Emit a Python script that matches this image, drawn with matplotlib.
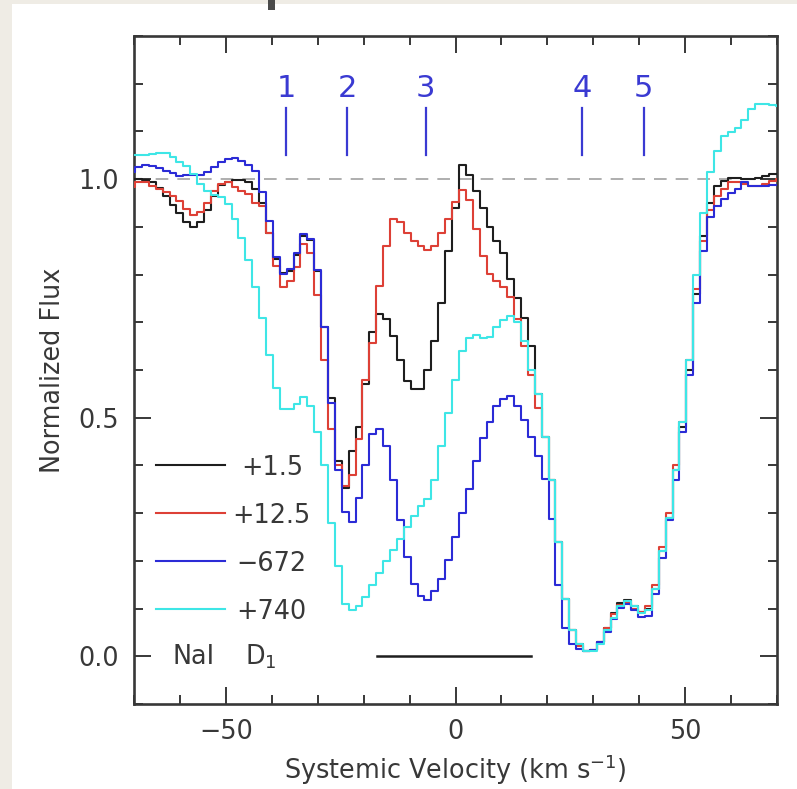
import numpy as np
import matplotlib
matplotlib.use("Agg")
import matplotlib.pyplot as plt
from matplotlib.patches import Rectangle
from matplotlib.ticker import MultipleLocator, FormatStrFormatter

# NaI D1 profiles on 1.5 km/s pixels, centres from -70.5 to +70.5 km/s
velocity = -70.5 + 1.5 * np.arange(95)

flux_p1_5 = [
    1.000, 1.000, 0.998, 0.993, 0.982, 0.964, 0.946, 0.928, 0.910, 0.899,
    0.910, 0.935, 0.964, 0.988, 0.993, 0.998, 0.998, 0.995, 0.980, 0.951,
    0.888, 0.832, 0.803, 0.808, 0.842, 0.880, 0.872, 0.808, 0.690, 0.542,
    0.410, 0.353, 0.430, 0.480, 0.570, 0.680, 0.717, 0.706, 0.671, 0.622,
    0.577, 0.560, 0.560, 0.600, 0.660, 0.740, 0.850, 0.940, 1.029, 1.008,
    0.975, 0.940, 0.900, 0.870, 0.845, 0.790, 0.750, 0.710, 0.650, 0.550,
    0.460, 0.370, 0.240, 0.120, 0.055, 0.025, 0.012, 0.013, 0.030, 0.060,
    0.090, 0.112, 0.118, 0.105, 0.092, 0.100, 0.140, 0.220, 0.290, 0.390,
    0.480, 0.600, 0.760, 0.880, 0.950, 0.986, 0.996, 1.003, 1.003, 1.000,
    1.000, 1.003, 1.006, 1.010, 1.010,
]

flux_p12_5 = [
    0.983, 0.995, 0.994, 0.986, 0.979, 0.973, 0.965, 0.954, 0.937, 0.925,
    0.932, 0.951, 0.976, 0.989, 0.993, 0.983, 0.976, 0.969, 0.951, 0.944,
    0.888, 0.818, 0.773, 0.787, 0.815, 0.864, 0.845, 0.758, 0.621, 0.477,
    0.401, 0.357, 0.379, 0.455, 0.578, 0.657, 0.776, 0.859, 0.917, 0.910,
    0.888, 0.870, 0.859, 0.852, 0.859, 0.888, 0.917, 0.953, 0.978, 0.957,
    0.895, 0.838, 0.801, 0.787, 0.773, 0.752, 0.706, 0.650, 0.590, 0.520,
    0.460, 0.370, 0.240, 0.120, 0.055, 0.022, 0.012, 0.013, 0.030, 0.060,
    0.088, 0.108, 0.112, 0.100, 0.092, 0.105, 0.150, 0.230, 0.300, 0.400,
    0.490, 0.620, 0.770, 0.870, 0.935, 0.965, 0.979, 0.993, 0.993, 0.990,
    0.986, 0.986, 0.990, 0.996, 1.000,
]

flux_m672 = [
    1.014, 1.025, 1.029, 1.027, 1.023, 1.018, 1.013, 1.007, 1.008, 1.008,
    1.008, 1.015, 1.025, 1.035, 1.043, 1.045, 1.038, 1.029, 1.018, 0.974,
    0.913, 0.836, 0.801, 0.811, 0.846, 0.885, 0.874, 0.810, 0.690, 0.530,
    0.390, 0.303, 0.282, 0.332, 0.400, 0.465, 0.476, 0.440, 0.370, 0.285,
    0.209, 0.152, 0.126, 0.119, 0.137, 0.162, 0.202, 0.249, 0.300, 0.350,
    0.409, 0.458, 0.490, 0.525, 0.540, 0.545, 0.525, 0.495, 0.460, 0.420,
    0.371, 0.287, 0.150, 0.060, 0.025, 0.015, 0.011, 0.014, 0.030, 0.050,
    0.078, 0.102, 0.109, 0.098, 0.082, 0.084, 0.130, 0.205, 0.285, 0.370,
    0.470, 0.590, 0.740, 0.850, 0.920, 0.944, 0.958, 0.972, 0.980, 0.993,
    0.986, 0.986, 0.986, 0.988, 0.988,
]

flux_p740 = [
    1.050, 1.051, 1.051, 1.052, 1.054, 1.054, 1.047, 1.035, 1.027, 1.010,
    0.990, 0.976, 0.966, 0.962, 0.948, 0.917, 0.877, 0.830, 0.773, 0.708,
    0.632, 0.563, 0.518, 0.518, 0.528, 0.543, 0.525, 0.470, 0.400, 0.280,
    0.190, 0.110, 0.097, 0.105, 0.125, 0.150, 0.175, 0.200, 0.222, 0.245,
    0.270, 0.295, 0.315, 0.330, 0.370, 0.440, 0.510, 0.580, 0.640, 0.668,
    0.673, 0.668, 0.670, 0.690, 0.705, 0.713, 0.700, 0.660, 0.600, 0.550,
    0.460, 0.370, 0.240, 0.120, 0.055, 0.025, 0.012, 0.012, 0.025, 0.055,
    0.080, 0.105, 0.115, 0.105, 0.090, 0.098, 0.140, 0.220, 0.290, 0.390,
    0.490, 0.620, 0.800, 0.930, 1.014, 1.059, 1.091, 1.098, 1.108, 1.124,
    1.146, 1.157, 1.157, 1.155, 1.153,
]

series_labels = ["+1.5", "+12.5", "\u2212672", "+740"]
series_colors = ["#1e1e1e", "#dd4036", "#2b2bd6", "#3ee6e6"]
legend_levels = [0.4, 0.3, 0.2, 0.1]
label_starts = [-46.6, -48.6, -47.8, -47.8]

# absorption components
component_ids = ["1", "2", "3", "4", "5"]
component_vel = [-36.9, -23.6, -6.5, 27.5, 41.0]

# velocity span of the horizontal bar at zero flux
bar_span = [-17.1, 16.5]

ink = "#383838"
plt.rcParams["font.family"] = ["DejaVu Sans"]
plt.rcParams["mathtext.fontset"] = "dejavusans"

W, H = 797, 789
fig = plt.figure(figsize=(W / 100, H / 100), dpi=100)
fig.patch.set_facecolor("#efece5")
fig.patches.append(Rectangle((12 / W, 0), 1 - 12 / W, 1 - 4 / H,
                             transform=fig.transFigure, facecolor="white",
                             edgecolor="none", zorder=-10))
fig.patches.append(Rectangle((268 / W, 1 - 10 / H), 7 / W, 10 / H,
                             transform=fig.transFigure, facecolor="#4a4a4a",
                             edgecolor="none", zorder=-9))

ax = fig.add_axes([134 / W, 1 - 704 / H, (777 - 134) / W, (704 - 36) / H])
ax.set_facecolor("white")

fluxes = [flux_p1_5, flux_p12_5, flux_m672, flux_p740]
for f, c in zip(fluxes, series_colors):
    ax.step(velocity, f, where="mid", color=c, lw=1.5, zorder=3)

ax.axhline(1.0, color="#a8a8a8", lw=1.3, dashes=(7, 5), zorder=1)

# hand-drawn key in the lower left
for lab, c, y, x0 in zip(series_labels, series_colors, legend_levels,
                         label_starts):
    ax.plot([-65.3, -50.2], [y, y], color=c, lw=1.5)
    ax.text(x0, y, lab, color=ink, fontsize=18.4, ha="left",
            va="center_baseline")

ax.text(-61.6, 0.005, "NaI", color=ink, fontsize=18.4, ha="left",
        va="center_baseline")
ax.text(-45.8, 0.005, "D$_1$", color=ink, fontsize=18.4, ha="left",
        va="center_baseline")
ax.plot(bar_span, [0, 0], color="#1e1e1e", lw=1.8)

for cid, v in zip(component_ids, component_vel):
    ax.plot([v, v], [1.05, 1.15], color="#3a3ad2", lw=1.6)
    ax.text(v, 1.197, cid, color="#3a3ad2", fontsize=22, ha="center",
            va="center_baseline")

ax.set_xlim(-70, 70)
ax.set_ylim(-0.1, 1.3)
ax.xaxis.set_major_locator(MultipleLocator(50))
ax.xaxis.set_minor_locator(MultipleLocator(10))
ax.yaxis.set_major_locator(MultipleLocator(0.5))
ax.yaxis.set_minor_locator(MultipleLocator(0.1))
ax.yaxis.set_major_formatter(FormatStrFormatter("%.1f"))
ax.tick_params(which="both", direction="in", top=True, right=True,
               color=ink, width=1.4, labelcolor=ink, labelsize=18.4, pad=11)
ax.tick_params(which="major", length=12.5)
ax.tick_params(which="minor", length=6.8)
for sp in ax.spines.values():
    sp.set_linewidth(1.9)
    sp.set_color(ink)

ax.set_xlabel("Systemic Velocity (km s$^{-1}$)", fontsize=18.4, color=ink,
              labelpad=5)
ax.set_ylabel("Normalized Flux", fontsize=18.4, color=ink, labelpad=9)

fig.savefig("out.png", dpi=100, facecolor=fig.get_facecolor())
